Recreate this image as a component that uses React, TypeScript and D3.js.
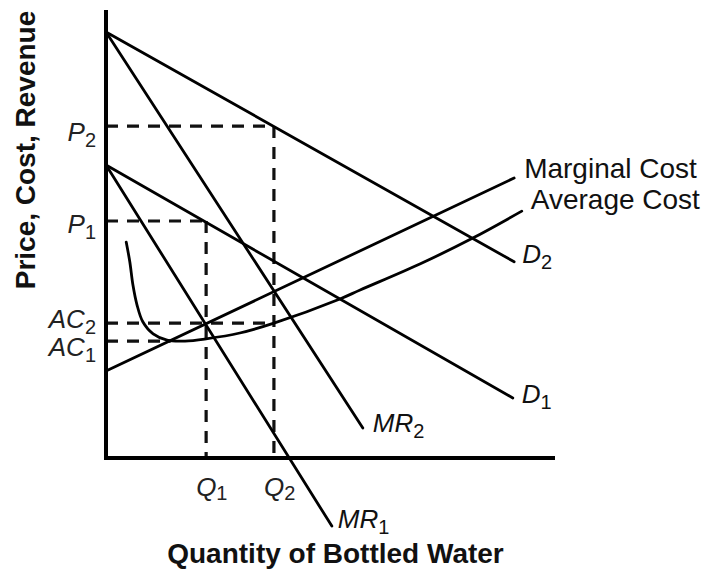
import React from "react";
import * as d3 from "d3";

const width = 707;
const height = 573;
const margin = { top: 10, right: 152, bottom: 115, left: 106 };

// quantity (x) and price (y), both on a 0-100 scale
const demand2 = [[0, 95.1], [90.9, 43.8]];
const demand1 = [[0, 65.4], [90.6, 13.4]];
const margRev2 = [[0, 95.1], [57.2, 6.7]];
const margRev1 = [[0, 65.4], [50.3, -15.2]];
const margCost = [[0, 19.4], [90.9, 62.5]];
const avgCost = [
  [4.5, 48.2], [5.3, 43.8], [6.0, 38.6], [6.9, 34.2], [8.2, 30.4],
  [10.5, 27.7], [13.6, 26.3], [17.6, 26.1], [22.3, 26.6], [29.8, 27.9],
  [37.4, 30.1], [52.1, 35.5], [56.6, 37.5], [69.9, 43.3], [81.7, 49.1],
  [92.6, 55.1]
];

// price ticks: label, value, how far the dashed guide runs along q
const priceTicks = [
  { label: "P", sub: "2", value: 74.1, to: 37.4 },
  { label: "P", sub: "1", value: 52.9, to: 22.3 },
  { label: "AC", sub: "2", value: 30.1, to: 37.4 },
  { label: "AC", sub: "1", value: 26.1, to: 14.4 }
];
const priceLabelDy = [15, 12, 5, 15];

// quantity ticks: label, value, top of the dashed guide
const qtyTicks = [
  { label: "Q", sub: "1", value: 22.3, top: 52.9 },
  { label: "Q", sub: "2", value: 37.4, top: 74.1 }
];

// curve name labels
const curveLabels = [
  { label: "D", sub: "2", data: demand2, dx: 8, dy: 1, italic: true },
  { label: "D", sub: "1", data: demand1, dx: 9, dy: 5, italic: true },
  { label: "MR", sub: "2", data: margRev2, dx: 10, dy: 4, italic: true },
  { label: "MR", sub: "1", data: margRev1, dx: 6, dy: 2, italic: true },
  { label: "Marginal Cost", sub: "", data: margCost, dx: 10, dy: 0, italic: false },
  { label: "Average Cost", sub: "", data: avgCost, dx: 9, dy: -2, italic: false }
];

const font = "'Liberation Sans', Arial, Helvetica, sans-serif";

export default function App() {
  const x = d3.scaleLinear().domain([0, 100]).range([margin.left, width - margin.right]);
  const y = d3.scaleLinear().domain([0, 100]).range([height - margin.bottom, margin.top]);

  const line = d3.line<number[]>().x((d) => x(d[0])).y((d) => y(d[1]));
  const smooth = d3
    .line<number[]>()
    .x((d) => x(d[0]))
    .y((d) => y(d[1]))
    .curve(d3.curveCatmullRom.alpha(0.5));

  const straight = [demand2, demand1, margRev2, margRev1, margCost];

  return (
    <svg
      width={width}
      height={height}
      style={{ position: "absolute", left: 0, top: 0, background: "#fff" }}
      fontFamily={font}
    >
      {/* dashed guides */}
      <g stroke="#111" strokeWidth={3.2} strokeDasharray="12,9" fill="none">
        {priceTicks.map((t, i) => (
          <line key={"h" + i} x1={x(0)} x2={x(t.to)} y1={y(t.value)} y2={y(t.value)} />
        ))}
        {qtyTicks.map((t, i) => (
          <line key={"v" + i} x1={x(t.value)} x2={x(t.value)} y1={y(t.top)} y2={y(0)} />
        ))}
      </g>

      {/* curves */}
      <g stroke="#000" strokeWidth={2.8} fill="none" strokeLinecap="round">
        {straight.map((d, i) => (
          <path key={i} d={line(d) || ""} />
        ))}
        <path d={smooth(avgCost) || ""} />
      </g>

      {/* axes */}
      <g stroke="#000" strokeWidth={4} fill="none">
        <line x1={x(0)} x2={x(0)} y1={y(100)} y2={y(0) + 2} />
        <line x1={x(0) - 2} x2={x(100)} y1={y(0)} y2={y(0)} />
      </g>

      {/* price tick labels */}
      {priceTicks.map((t, i) => (
        <text
          key={"pl" + i}
          x={x(0) - 10}
          y={y(t.value) + priceLabelDy[i]}
          textAnchor="end"
          fontSize={26}
          fontStyle="italic"
          fill="#222"
        >
          {t.label}
          <tspan fontSize={20} fontStyle="normal" dy={6}>{t.sub}</tspan>
        </text>
      ))}

      {/* quantity tick labels */}
      {qtyTicks.map((t, i) => (
        <text
          key={"ql" + i}
          x={x(t.value) - 10}
          y={y(0) + 38}
          fontSize={26}
          fontStyle="italic"
          fill="#222"
        >
          {t.label}
          <tspan fontSize={20} fontStyle="normal" dy={4}>{t.sub}</tspan>
        </text>
      ))}

      {/* curve labels */}
      {curveLabels.map((c, i) => {
        const end = c.data[c.data.length - 1];
        return (
          <text
            key={"cl" + i}
            x={x(end[0]) + c.dx}
            y={y(end[1]) + c.dy}
            fontSize={c.italic ? 26 : 28}
            fontStyle={c.italic ? "italic" : "normal"}
            fill="#111"
          >
            {c.label}
            {c.sub && (
              <tspan fontSize={20} fontStyle="normal" dy={6}>{c.sub}</tspan>
            )}
          </text>
        );
      })}

      {/* axis titles */}
      <text
        x={(x(0) + x(100)) / 2 + 5}
        y={563}
        textAnchor="middle"
        fontSize={28}
        fontWeight="bold"
        fill="#111"
      >
        Quantity of Bottled Water
      </text>
      <text
        transform={`translate(35, ${(y(100) + 290) / 2}) rotate(-90)`}
        textAnchor="middle"
        fontSize={28}
        fontWeight="bold"
        fill="#111"
      >
        Price, Cost, Revenue
      </text>
    </svg>
  );
}
